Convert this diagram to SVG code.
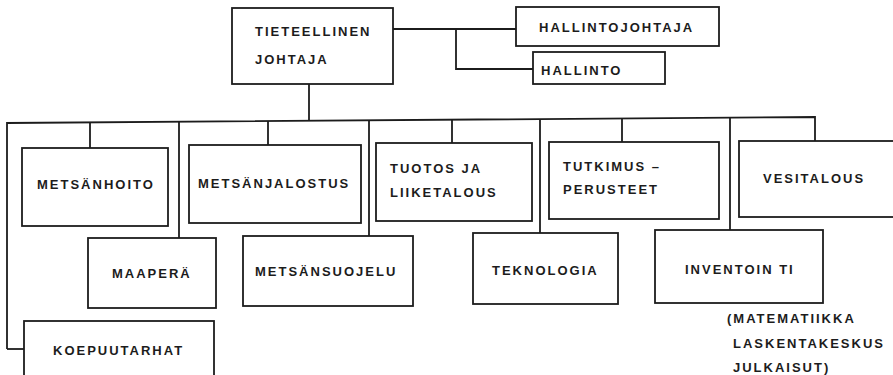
<svg xmlns="http://www.w3.org/2000/svg" width="893" height="375" viewBox="0 0 893 375">
<style>
.box{fill:#fff;stroke:#1c1c1c;stroke-width:1.8}
.c{fill:none;stroke:#1c1c1c;stroke-width:1.8}
text{font-family:"Liberation Sans",Arial,sans-serif;font-weight:bold;font-size:13px;letter-spacing:2px;fill:#1c1c1c}
</style>
<rect width="893" height="375" fill="#fff"/>
<g id="connectors">
<polyline class="c" points="7,349 7,123 815,117 815,141"/>
<line class="c" x1="24" y1="349" x2="7" y2="349"/>
<line class="c" x1="309" y1="84" x2="309" y2="120.8"/>
<line class="c" x1="393" y1="29" x2="516" y2="29"/>
<polyline class="c" points="456,29 456,69 533,69"/>
<line class="c" x1="90" y1="122.4" x2="90" y2="148"/>
<line class="c" x1="179" y1="121.7" x2="179" y2="238"/>
<line class="c" x1="268" y1="121.1" x2="268" y2="145"/>
<line class="c" x1="369" y1="120.3" x2="369" y2="236"/>
<line class="c" x1="452" y1="119.7" x2="452" y2="143"/>
<line class="c" x1="540" y1="119" x2="540" y2="233"/>
<line class="c" x1="622" y1="118.4" x2="622" y2="142"/>
<line class="c" x1="730" y1="117.6" x2="730" y2="230"/>
</g>
<g id="tieteellinen-johtaja">
<rect class="box" x="232" y="8" width="161" height="76"/>
<text x="255" y="36">TIETEELLINEN</text>
<text x="255" y="64">JOHTAJA</text>
</g>
<g id="hallintojohtaja">
<rect class="box" x="516" y="7" width="203" height="39"/>
<text x="539" y="32">HALLINTOJOHTAJA</text>
</g>
<g id="hallinto">
<rect class="box" x="533" y="52" width="132" height="32"/>
<text x="541" y="75">HALLINTO</text>
</g>
<g id="metsanhoito">
<rect class="box" x="22" y="148" width="146" height="78"/>
<text x="37" y="189">METSÄNHOITO</text>
</g>
<g id="maapera">
<rect class="box" x="88" y="238" width="128" height="70"/>
<text x="112" y="278">MAAPERÄ</text>
</g>
<g id="koepuutarhat">
<rect class="box" x="24" y="321" width="190" height="60"/>
<text x="53" y="355">KOEPUUTARHAT</text>
</g>
<g id="metsanjalostus">
<rect class="box" x="189" y="145" width="172" height="78"/>
<text x="198" y="188">METSÄNJALOSTUS</text>
</g>
<g id="metsansuojelu">
<rect class="box" x="243" y="236" width="170" height="70"/>
<text x="255" y="276">METSÄNSUOJELU</text>
</g>
<g id="tuotos-ja-liiketalous">
<rect class="box" x="376" y="143" width="156" height="78"/>
<text x="390" y="173">TUOTOS  JA</text>
<text x="390" y="197">LIIKETALOUS</text>
</g>
<g id="teknologia">
<rect class="box" x="473" y="233" width="145" height="71"/>
<text x="492" y="275">TEKNOLOGIA</text>
</g>
<g id="tutkimus-perusteet">
<rect class="box" x="549" y="142" width="170" height="77"/>
<text x="563" y="171">TUTKIMUS –</text>
<text x="563" y="194">PERUSTEET</text>
</g>
<g id="inventointi">
<rect class="box" x="655" y="230" width="168" height="73"/>
<text x="685" y="274">INVENTOIN TI</text>
</g>
<g id="vesitalous">
<rect class="box" x="739" y="141" width="160" height="76"/>
<text x="763" y="183">VESITALOUS</text>
</g>
<g id="note">
<text x="727" y="323">(MATEMATIIKKA</text>
<text x="733" y="348">LASKENTAKESKUS</text>
<text x="733" y="372">JULKAISUT)</text>
</g>
</svg>
